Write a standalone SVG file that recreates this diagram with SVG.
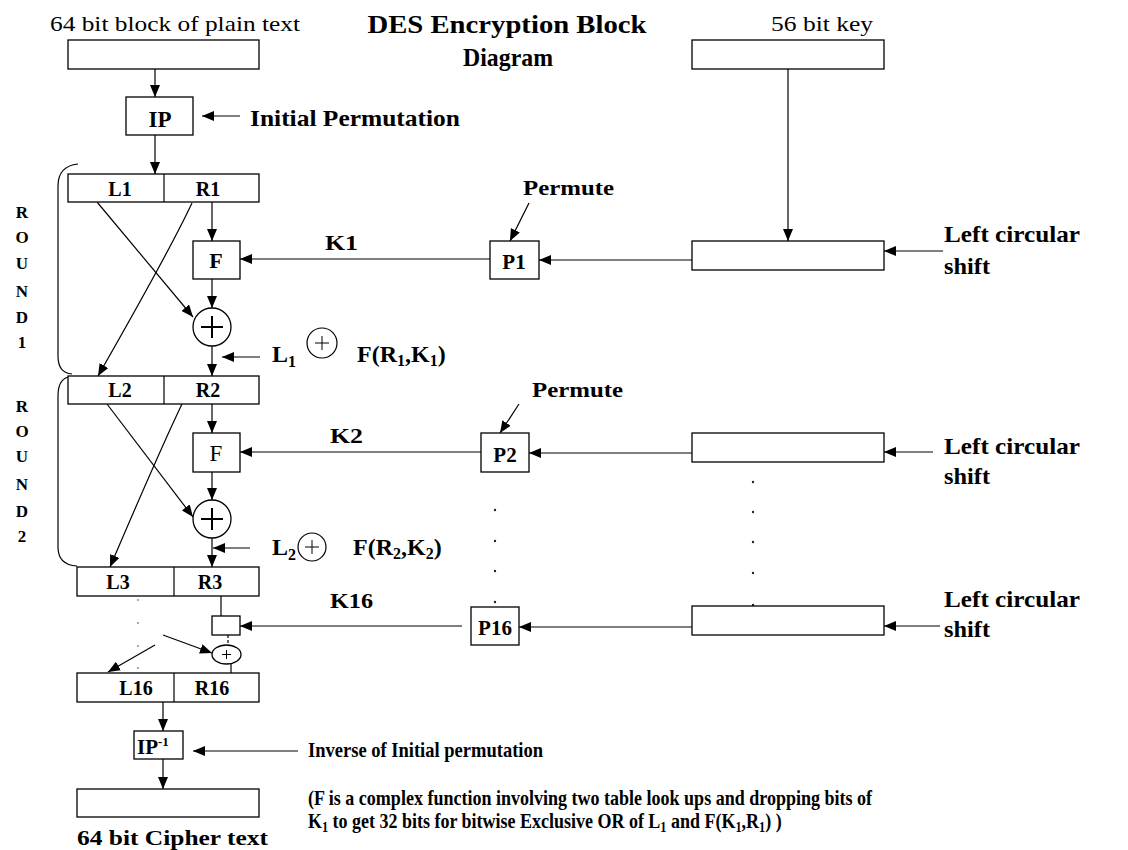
<svg xmlns="http://www.w3.org/2000/svg" width="1128" height="850" viewBox="0 0 1128 850">
<defs>
<style>
.bx{fill:#fff;stroke:#000;stroke-width:1.3}
.ln{fill:none;stroke:#000;stroke-width:1.2}
.ar{fill:none;stroke:#000;stroke-width:1.2;marker-end:url(#ah)}
.t{font-family:"Liberation Serif","Times New Roman",serif;fill:#000}
.b{font-weight:bold}
.c{text-anchor:middle}
.dot{fill:#222}
.gdot{fill:#999}
.pl{stroke:#000;stroke-width:2;fill:none}
.pls{stroke:#000;stroke-width:1;fill:none}
</style>
<marker id="ah" viewBox="0 0 12 10" refX="12" refY="5" markerWidth="12" markerHeight="10" markerUnits="userSpaceOnUse" orient="auto">
<path d="M0,0 L12,5 L0,10 z" fill="#000"/>
</marker>
</defs>
<rect width="1128" height="850" fill="#fff"/>

<!-- titles and free labels -->
<g id="labels">
<text class="t" x="50" y="31" font-size="21" textLength="250" lengthAdjust="spacingAndGlyphs">64 bit block of plain text</text>
<text class="t b c" x="507" y="33" font-size="26" textLength="279" lengthAdjust="spacingAndGlyphs">DES Encryption Block</text>
<text class="t b c" x="508" y="66" font-size="26" textLength="90" lengthAdjust="spacingAndGlyphs">Diagram</text>
<text class="t" x="771" y="31" font-size="21" textLength="102" lengthAdjust="spacingAndGlyphs">56 bit key</text>
<text class="t b" x="250" y="126" font-size="23" textLength="210" lengthAdjust="spacingAndGlyphs">Initial Permutation</text>
<text class="t b" x="325" y="250" font-size="20" textLength="33" lengthAdjust="spacingAndGlyphs">K1</text>
<text class="t b" x="330" y="443" font-size="20" textLength="33" lengthAdjust="spacingAndGlyphs">K2</text>
<text class="t b" x="330" y="608" font-size="20" textLength="43" lengthAdjust="spacingAndGlyphs">K16</text>
<text class="t b" x="523" y="195" font-size="21" textLength="91" lengthAdjust="spacingAndGlyphs">Permute</text>
<text class="t b" x="532" y="397" font-size="21" textLength="91" lengthAdjust="spacingAndGlyphs">Permute</text>
<text class="t b" x="944" y="242" font-size="23" textLength="136" lengthAdjust="spacingAndGlyphs">Left circular</text>
<text class="t b" x="944" y="274" font-size="23" textLength="46" lengthAdjust="spacingAndGlyphs">shift</text>
<text class="t b" x="944" y="454" font-size="23" textLength="136" lengthAdjust="spacingAndGlyphs">Left circular</text>
<text class="t b" x="944" y="484" font-size="23" textLength="46" lengthAdjust="spacingAndGlyphs">shift</text>
<text class="t b" x="944" y="607" font-size="23" textLength="136" lengthAdjust="spacingAndGlyphs">Left circular</text>
<text class="t b" x="944" y="637" font-size="23" textLength="46" lengthAdjust="spacingAndGlyphs">shift</text>
<!-- round labels -->
<g class="t b c" font-size="17">
<text x="22" y="218">R</text><text x="22" y="243">O</text><text x="22" y="269">U</text><text x="22" y="297">N</text><text x="22" y="323">D</text><text x="22" y="348">1</text>
<text x="22" y="412">R</text><text x="22" y="437">O</text><text x="22" y="462">U</text><text x="22" y="490">N</text><text x="22" y="517">D</text><text x="22" y="542">2</text>
</g>
<!-- L1 xor F(R1,K1) -->
<text class="t b" x="272" y="362" font-size="24">L<tspan font-size="16" dy="5">1</tspan></text>
<circle cx="322" cy="343" r="15" class="ln" stroke-width="1"/>
<path class="pls" d="M315,343 H329 M322,336 V350"/>
<text class="t b" x="357" y="362" font-size="24">F(R<tspan font-size="16" dy="4">1</tspan><tspan dy="-4">,K</tspan><tspan font-size="16" dy="4">1</tspan><tspan dy="-4">)</tspan></text>
<!-- L2 xor F(R2,K2) -->
<text class="t b" x="272" y="555" font-size="24">L<tspan font-size="16" dy="5">2</tspan></text>
<circle cx="312" cy="547" r="14" class="ln" stroke-width="1"/>
<path class="pls" d="M305,547 H319 M312,540 V554"/>
<text class="t b" x="353" y="555" font-size="24">F(R<tspan font-size="16" dy="4">2</tspan><tspan dy="-4">,K</tspan><tspan font-size="16" dy="4">2</tspan><tspan dy="-4">)</tspan></text>
<!-- bottom notes -->
<text class="t b" x="308" y="757" font-size="22" textLength="235" lengthAdjust="spacingAndGlyphs">Inverse of Initial permutation</text>
<text class="t b" x="308" y="805" font-size="22" textLength="564" lengthAdjust="spacingAndGlyphs">(F is a complex function involving two table look ups and dropping bits of</text>
<text class="t b" font-size="22" transform="translate(308,828) scale(0.818,1)" x="0" y="0">K<tspan font-size="15" dy="4">1</tspan><tspan dy="-4"> to get 32 bits for bitwise Exclusive OR of L</tspan><tspan font-size="15" dy="4">1</tspan><tspan dy="-4"> and F(K</tspan><tspan font-size="15" dy="4">1</tspan><tspan dy="-4">,R</tspan><tspan font-size="15" dy="4">1</tspan><tspan dy="-4">) )</tspan></text>
<text class="t b" x="77" y="845" font-size="22" textLength="191" lengthAdjust="spacingAndGlyphs">64 bit Cipher text</text>
</g>

<!-- connectors -->
<g id="connectors">
<path class="ar" d="M155,69 L155,97"/>
<path class="ar" d="M240,116 L202,116"/>
<path class="ar" d="M155,135 L155,174"/>
<path class="ar" d="M212,202 L212,241"/>
<path class="ar" d="M212,279 L212,308"/>
<path class="ar" d="M212,346 L212,376"/>
<path class="ar" d="M97,202 L193,317"/>
<path class="ar" d="M192,203 Q170,250 98,376"/>
<path class="ar" d="M260,357 L222,357"/>
<path class="ar" d="M788,69 L788,241"/>
<path class="ar" d="M692,260 L539,260"/>
<path class="ar" d="M490,259 L240,259"/>
<path class="ar" d="M529,203 L510,241"/>
<path class="ar" d="M943,251 L884,251"/>
<path class="ar" d="M212,404 L212,433"/>
<path class="ar" d="M212,472 L212,500"/>
<path class="ar" d="M212,538 L212,567"/>
<path class="ar" d="M107,404 L193,517"/>
<path class="ar" d="M182,404 Q160,450 110,567"/>
<path class="ar" d="M250,548 L213,548"/>
<path class="ar" d="M692,453 L529,453"/>
<path class="ar" d="M481,452 L240,452"/>
<path class="ar" d="M519,404 L500,433"/>
<path class="ar" d="M933,452 L884,452"/>
<path class="ln" d="M221,596 L221,616"/>
<path class="ar" d="M462,626 L240,626"/>
<path class="ar" d="M692,627 L519,627"/>
<path class="ar" d="M940,626 L884,626"/>
<path class="ln" d="M228,635 L228,645" stroke-dasharray="3,2"/>
<path class="ln" d="M231,664 L231,673"/>
<path class="ar" d="M163,635 L212,653"/>
<path class="ar" d="M155,645 L108,672"/>
<path class="ar" d="M163,702 L163,731"/>
<path class="ar" d="M298,751 L193,751"/>
<path class="ar" d="M163,759 L163,789"/>
<!-- round brackets -->
<path class="ln" d="M78,164 Q58,166 58,186 L58,356 Q58,373 72,374"/>
<path class="ln" d="M68,377 Q58,380 58,396 L58,547 Q58,565 77,566"/>
<!-- dots -->
<circle class="dot" cx="753" cy="482" r="1.2"/><circle class="dot" cx="753" cy="512" r="1.2"/><circle class="dot" cx="753" cy="542" r="1.2"/><circle class="dot" cx="753" cy="573" r="1.2"/><circle class="dot" cx="753" cy="605" r="1.2"/>
<circle class="dot" cx="495" cy="510" r="1.2"/><circle class="dot" cx="495" cy="541" r="1.2"/><circle class="dot" cx="495" cy="571" r="1.2"/><circle class="dot" cx="495" cy="602" r="1.2"/>
<circle class="gdot" cx="138" cy="600" r="1.1"/><circle class="gdot" cx="138" cy="623" r="1.1"/><circle class="gdot" cx="138" cy="646" r="1.1"/><circle class="gdot" cx="138" cy="668" r="1.1"/>
</g>

<!-- nodes -->
<g id="plaintext"><rect class="bx" x="68" y="40" width="191" height="29"/></g>
<g id="ip"><rect class="bx" x="126" y="97" width="67" height="38"/><text class="t b c" x="160" y="127" font-size="23">IP</text></g>
<g id="l1r1"><rect class="bx" x="68" y="174" width="191" height="28"/><line class="ln" x1="164" y1="174" x2="164" y2="202"/><text class="t b c" x="120" y="196" font-size="20">L1</text><text class="t b c" x="208" y="196" font-size="20">R1</text></g>
<g id="f1"><rect class="bx" x="193" y="241" width="47" height="38"/><text class="t b c" x="216" y="268" font-size="22">F</text></g>
<g id="xor1"><circle class="bx" cx="212" cy="327" r="19"/><path class="pl" d="M201,327 H223 M212,316 V338"/></g>
<g id="key"><rect class="bx" x="692" y="40" width="192" height="29"/></g>
<g id="shift1"><rect class="bx" x="692" y="241" width="192" height="29"/></g>
<g id="p1"><rect class="bx" x="490" y="241" width="49" height="38"/><text class="t b c" x="514" y="269" font-size="21">P1</text></g>
<g id="l2r2"><rect class="bx" x="68" y="376" width="191" height="28"/><line class="ln" x1="164" y1="376" x2="164" y2="404"/><text class="t b c" x="120" y="397" font-size="20">L2</text><text class="t b c" x="208" y="397" font-size="20">R2</text></g>
<g id="f2"><rect class="bx" x="193" y="433" width="47" height="39"/><text class="t c" x="216" y="461" font-size="23">F</text></g>
<g id="xor2"><circle class="bx" cx="212" cy="519" r="19"/><path class="pl" d="M201,519 H223 M212,508 V530"/></g>
<g id="shift2"><rect class="bx" x="692" y="433" width="192" height="29"/></g>
<g id="p2"><rect class="bx" x="481" y="433" width="48" height="39"/><text class="t b c" x="505" y="462" font-size="21">P2</text></g>
<g id="l3r3"><rect class="bx" x="77" y="567" width="182" height="29"/><line class="ln" x1="174" y1="567" x2="174" y2="596"/><text class="t b c" x="118" y="589" font-size="20">L3</text><text class="t b c" x="210" y="589" font-size="20">R3</text></g>
<g id="f16"><rect class="bx" x="212" y="616" width="28" height="19"/></g>
<g id="xor16"><ellipse class="bx" cx="226.5" cy="654.5" rx="14.5" ry="9.5"/><path class="pls" d="M222,654.5 H231 M226.5,650 V659"/></g>
<g id="shift3"><rect class="bx" x="692" y="606" width="192" height="29"/></g>
<g id="p16"><rect class="bx" x="471" y="607" width="48" height="38"/><text class="t b c" x="495" y="635" font-size="21">P16</text></g>
<g id="l16r16"><rect class="bx" x="77" y="673" width="182" height="29"/><line class="ln" x1="174" y1="673" x2="174" y2="702"/><text class="t b c" x="136" y="695" font-size="20">L16</text><text class="t b c" x="212" y="695" font-size="20">R16</text></g>
<g id="ipinv"><rect class="bx" x="134" y="731" width="49" height="28"/><text class="t b" x="137" y="754" font-size="21">IP<tspan font-size="13" dy="-8">-1</tspan></text></g>
<g id="ciphertext"><rect class="bx" x="77" y="789" width="182" height="28"/></g>
</svg>
